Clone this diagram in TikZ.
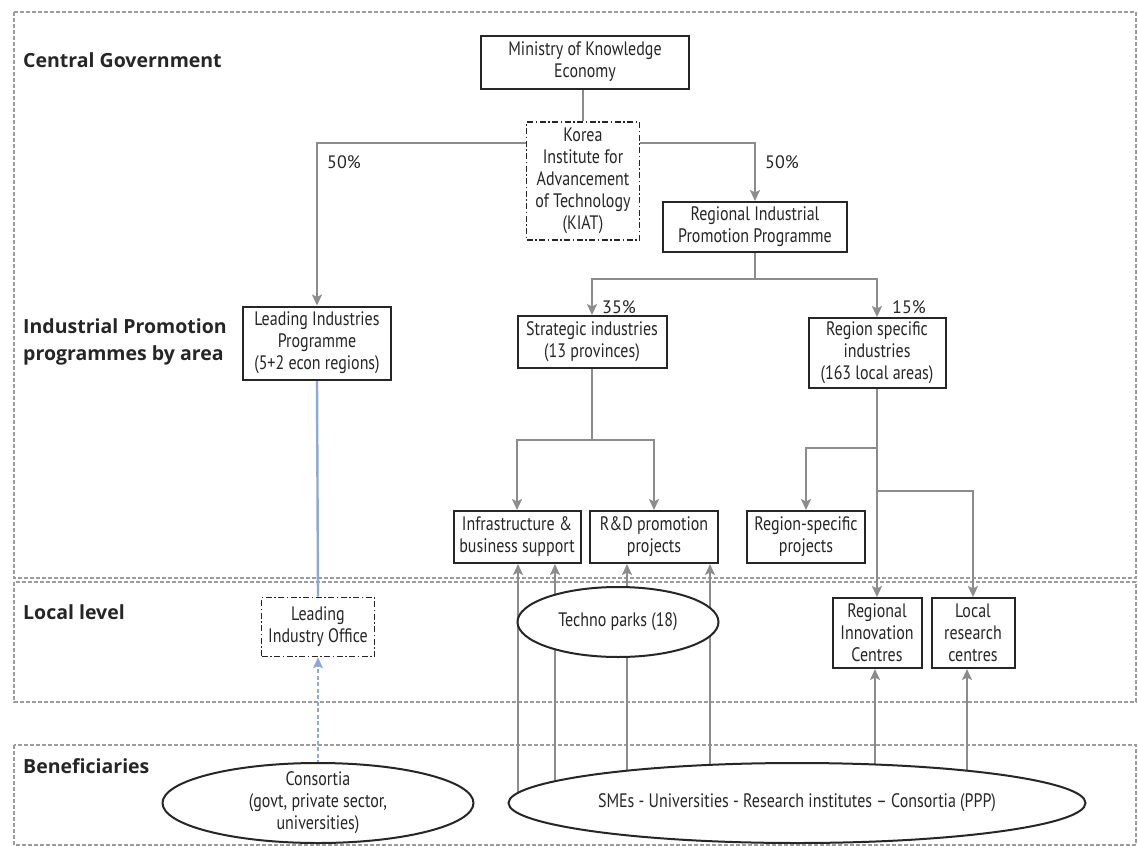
\documentclass[tikz,border=0pt]{standalone}
\usepackage{fontspec}
\setmainfont{PT Sans}
\newfontfamily\condfont[FakeStretch=0.82]{PT Sans}
\newfontfamily\labfont{Open Sans}
\usetikzlibrary{arrows.meta,shapes.geometric}
\pgfdeclarelayer{panels}
\pgfdeclarelayer{bg}
\pgfsetlayers{panels,bg,main}
\definecolor{linegray}{HTML}{8C8C8C}
\definecolor{panelgray}{HTML}{9C9C9C}
\definecolor{lineblue}{HTML}{8FA9D6}
\definecolor{txt}{HTML}{262626}
\tikzset{
  box/.style={draw=txt, line width=2pt, fill=white, inner sep=0pt, align=center,
    font=\condfont\fontsize{19.5}{22}\selectfont, text=txt},
  ddbox/.style={box, line width=1.7pt, dash pattern=on 6pt off 2.5pt on 1.5pt off 2.5pt},
  ell/.style={box, ellipse},
  conn/.style={draw=linegray, line width=2.3pt},
  tip/.style={-{Stealth[length=11pt,width=10pt,inset=2.5pt]}},
  arr/.style={conn, tip},
  blueline/.style={draw=lineblue, line width=2.4pt},
  bluedash/.style={draw=lineblue, line width=2pt, dash pattern=on 4pt off 2.5pt, tip},
  panel/.style={draw=panelgray, line width=1.4pt, dash pattern=on 4pt off 2pt},
  sect/.style={anchor=west, inner sep=0pt, align=left, text=txt,
    font=\labfont\bfseries\fontsize{19.5}{27}\selectfont},
  pct/.style={anchor=west, inner sep=0pt, text=txt, font=\fontsize{18}{20}\selectfont},
}
\begin{document}
\begin{tikzpicture}[x=1pt,y=-1pt]
\begin{pgfonlayer}{panels}
  \fill[white] (0,0) rectangle (1138,846);
  \draw[panel] (14,12) rectangle (1136,578);
  \draw[panel] (14,582) rectangle (1136,702);
  \draw[panel] (14,745) rectangle (1136,845);
\end{pgfonlayer}
\useasboundingbox (0,0) rectangle (1138,846);

% section labels
\node[sect] (lcg) at (23,60) {Central Government};
\node[sect] (lip_lab) at (23,342) {Industrial Promotion\\programmes by area};
\node[sect] (lll) at (23,612) {Local level};
\node[sect] (lbe) at (23,766) {Beneficiaries};

% nodes
\node[box, minimum width=208pt, minimum height=53pt] (min) at (585,62) {Ministry of Knowledge\\Economy};
\node[ddbox, minimum width=113pt, minimum height=118pt] (kiat) at (583,181) {Korea\\Institute for\\Advancement\\of Technology\\(KIAT)};
\node[box, minimum width=184pt, minimum height=50pt] (ripp) at (755,227) {Regional Industrial\\Promotion Programme};
\node[box, minimum width=148pt, minimum height=73pt] (lip) at (317,343) {Leading Industries\\Programme\\(5+2 econ regions)};
\node[box, minimum width=149pt, minimum height=52pt] (strat) at (592,342) {Strategic industries\\(13 provinces)};
\node[box, minimum width=137pt, minimum height=70pt] (rsi) at (877,353) {Region specific\\industries\\(163 local areas)};
\node[box, minimum width=127pt, minimum height=52pt] (infra) at (517,537) {Infrastructure \&\\business support};
\node[box, minimum width=128pt, minimum height=52pt] (rnd) at (654,537) {R\&D promotion\\projects};
\node[box, minimum width=118pt, minimum height=52pt] (rsp) at (806,537) {Region-specific\\projects};
\node[ddbox, minimum width=113pt, minimum height=59pt] (lio) at (318,627) {Leading\\Industry Office};
\node[ell, minimum width=201pt, minimum height=70pt] (techno) at (618,622) {Techno parks (18)};
\node[box, minimum width=89pt, minimum height=70pt] (ric) at (877,633) {Regional\\Innovation\\Centres};
\node[box, minimum width=83pt, minimum height=70pt] (lrc) at (973,633) {Local\\research\\centres};
\node[ell, inner ysep=-14pt, inner xsep=-12pt, minimum width=311pt, minimum height=80pt] (cons) at (318,803) {Consortia\\(govt, private sector,\\universities)};
\node[ell, inner xsep=-8pt, minimum width=577pt, minimum height=80pt] (smes) at (797,803) {SMEs - Universities - Research institutes – Consortia (PPP)};

% percentages
\node[pct] (p50a) at (327,162) {50\%};
\node[pct] (p50b) at (765,162) {50\%};
\node[pct] (p35) at (602,307) {35\%};
\node[pct] (p15) at (892,307) {15\%};

\coordinate (kj) at (583,143);
\coordinate (rj) at (755,279);
\coordinate (sj) at (592,440);
\coordinate (rj1) at (877,448);
\coordinate (rj2) at (877,491);

\begin{pgfonlayer}{bg}
  \draw[conn] (kiat.north |- min.south) -- (kiat.north);
  \draw[arr] (kiat.west |- kj) -| (lip.north);
  \draw[arr] (kiat.east |- kj) -| (ripp.north);
  \draw[conn] (ripp.south) -- (rj);
  \draw[arr] (rj) -| (strat.north);
  \draw[arr] (rj) -| (rsi.north);
  \draw[conn] (strat.south) -- (sj);
  \draw[arr] (sj) -| (infra.north);
  \draw[arr] (sj) -| (rnd.north);
  \draw[arr] (rsi.south) -- (ric.north);
  \draw[arr] (rj1) -| (rsp.north);
  \draw[arr] (rj2) -| (lrc.north);
  \draw[blueline] (lip.south) -- (lio.north);
  \draw[bluedash] (cons.center) -- (lio.south);
  \draw[arr] ([xshift=1pt]infra.south |- smes.center) -- ([xshift=1pt]infra.south);
  \draw[arr] ([xshift=38pt]infra.south |- smes.center) -- ([xshift=38pt]infra.south);
  \draw[arr] ([xshift=-27pt]rnd.south |- smes.center) -- ([xshift=-27pt]rnd.south);
  \draw[arr] ([xshift=56pt]rnd.south |- smes.center) -- ([xshift=56pt]rnd.south);
  \draw[arr] ([xshift=-2pt]ric.south |- smes.center) -- ([xshift=-2pt]ric.south);
  \draw[arr] ([xshift=-6pt]lrc.south |- smes.center) -- ([xshift=-6pt]lrc.south);
\end{pgfonlayer}
\end{tikzpicture}
\end{document}
